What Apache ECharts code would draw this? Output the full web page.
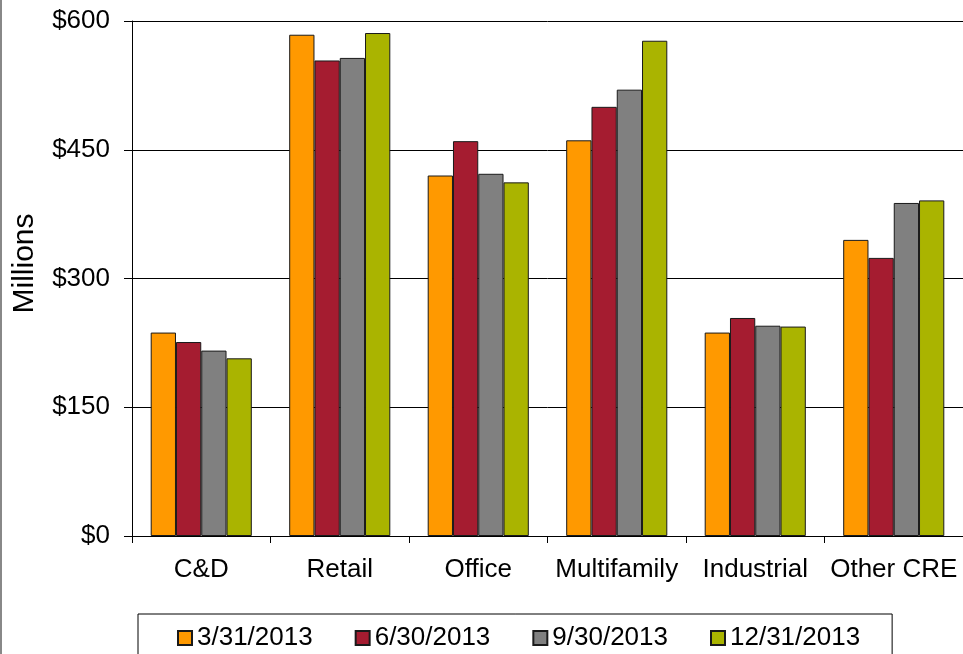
<!DOCTYPE html>
<html>
<head>
<meta charset="utf-8">
<script src="https://cdn.jsdelivr.net/npm/echarts@6/dist/echarts.min.js"></script>
<style>
    html, body { margin: 0; padding: 0; background: #fff; }
    #chart { width: 963px; height: 654px; }
</style>
</head>
<body>
<div id="chart"></div>
<script>
// categories and quarter series (in $ millions)
var categories = ['C&D', 'Retail', 'Office', 'Multifamily', 'Industrial', 'Other CRE'];
var quarters = ['3/31/2013', '6/30/2013', '9/30/2013', '12/31/2013'];
var q1 = [237, 584, 420, 461, 237, 345];
var q2 = [226, 554, 460, 500, 254, 324];
var q3 = [216, 557, 422, 520, 245, 388];
var q4 = [207, 586, 412, 577, 244, 391];
var yTicks = [0, 150, 300, 450, 600];

var colors = ['#FF9900', '#A51C30', '#808080', '#AAB400'];
var values = [q1, q2, q3, q4];
var font = 'Liberation Sans, Arial, sans-serif';

var chart = echarts.init(document.getElementById('chart'));

var series = [];
for (var i = 0; i < quarters.length; i++) {
    series.push({
        name: quarters[i],
        type: 'bar',
        barGap: 0,
        barCategoryGap: '27%',
        itemStyle: {
            color: colors[i],
            borderColor: '#1a1a1a',
            borderWidth: 1
        },
        data: values[i]
    });
}

var option = {
    animation: false,
    textStyle: { fontFamily: font },
    grid: {
        left: 132,
        top: 21,
        right: -6,
        bottom: 118
    },
    legend: {
        data: quarters,
        left: 138,
        top: 614,
        padding: [11, 32, 20, 39],
        borderColor: '#000',
        borderWidth: 1,
        itemWidth: 14,
        itemHeight: 14,
        itemGap: 42,
        icon: 'rect',
        textStyle: { fontSize: 26, color: '#000', fontFamily: font }
    },
    xAxis: {
        type: 'category',
        data: categories,
        axisLine: { lineStyle: { color: '#000', width: 1 } },
        axisTick: { show: true, length: 7, interval: 0, lineStyle: { color: '#000' } },
        axisLabel: { fontSize: 26, color: '#000', margin: 21, interval: 0, fontFamily: font }
    },
    yAxis: {
        type: 'value',
        min: yTicks[0],
        max: yTicks[yTicks.length - 1],
        interval: 150,
        name: 'Millions',
        nameLocation: 'middle',
        nameRotate: 90,
        nameGap: 92,
        nameTextStyle: { fontSize: 30, color: '#000', fontFamily: font, padding: [0, 0, 0, 30] },
        axisLine: { show: true, lineStyle: { color: '#000', width: 1 } },
        axisTick: { show: true, length: 8, lineStyle: { color: '#000' } },
        axisLabel: {
            fontSize: 26,
            color: '#000',
            margin: 22,
            fontFamily: font,
            formatter: function (v) { return '$' + v; }
        },
        splitLine: { show: true, lineStyle: { color: '#000', width: 1 } }
    },
    graphic: [{
        type: 'line',
        shape: { x1: 1, y1: 0, x2: 1, y2: 654 },
        style: { stroke: '#888', lineWidth: 2 }
    }],
    series: series
};

chart.setOption(option, true);
</script>
</body>
</html>
